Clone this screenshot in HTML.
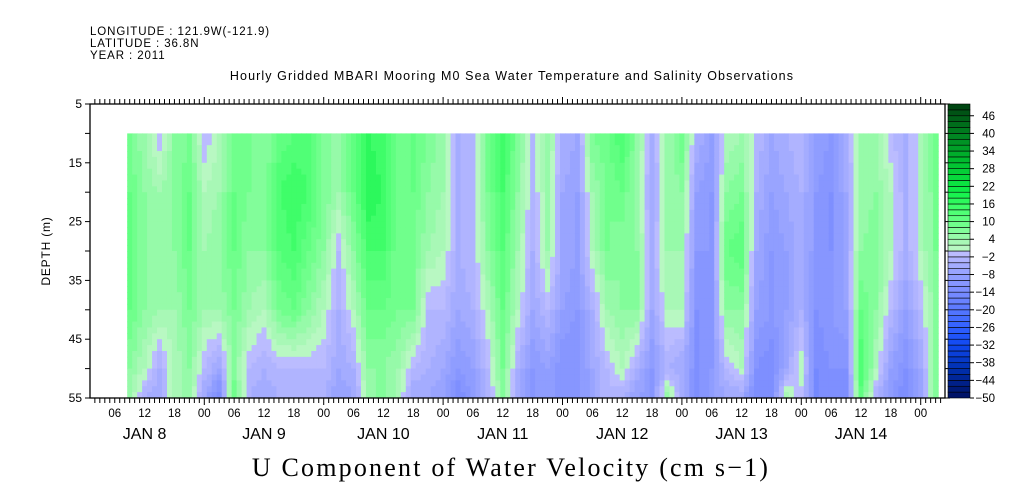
<!DOCTYPE html>
<html><head><meta charset="utf-8"><style>
body{margin:0;background:#fff;}
svg{display:block;font-family:"Liberation Sans",sans-serif;}
</style></head><body>
<svg id="chart" width="1009" height="504" viewBox="0 0 1009 504">
<text x="90" y="35" font-size="11.5" letter-spacing="0.9">LONGITUDE : 121.9W(-121.9)</text>
<text x="90" y="47" font-size="11.5" letter-spacing="0.9">LATITUDE : 36.8N</text>
<text x="90" y="59" font-size="11.5" letter-spacing="0.9">YEAR : 2011</text>
<text x="512" y="80" font-size="12.5" letter-spacing="1.1" text-anchor="middle">Hourly Gridded MBARI Mooring M0 Sea Water Temperature and Salinity Observations</text>
<g id="cells"></g>
<g id="axes"></g>
<g id="cbar"></g>
<text x="50" y="251" font-size="12" letter-spacing="0.8" text-anchor="middle" transform="rotate(-90 50 251)">DEPTH (m)</text>
<text x="511" y="476" font-size="26" letter-spacing="2.2" text-anchor="middle" font-family="Liberation Serif, serif">U Component of Water Velocity (cm s−1)</text>
</svg>
<script>
// data: 3-hourly columns starting Jan 8 09:00 (hours from Jan 8 00:00)
const startHour = 9;
const stepHours = 3;
const depthLevels = [10, 20, 30, 40, 50, 55];
const v10 = [8,4,-2,6,8,-2,2,8,8,6,10,12,12,6,6,10,16,14,8,10,8,4,-4,-2,8,16,8,-2,6,-4,-6,8,10,14,6,-4,4,10,-4,-8,2,4,-2,-6,-4,-2,-8,-10,-4,4,4,-2,-4,2,10];
const v20 = [10,6,4,6,10,2,4,10,8,6,14,16,14,8,4,10,18,16,8,10,6,4,-4,-2,8,14,6,-2,4,-6,-8,4,8,10,4,-6,4,6,-8,-10,6,8,-4,-8,-6,-4,-10,-12,-6,4,6,2,-4,2,8];
const v30 = [10,6,4,6,10,4,6,10,6,6,12,14,10,6,-2,6,14,14,8,8,4,2,-4,-2,6,12,4,-4,4,-6,-8,2,8,6,6,-4,4,4,-10,-10,10,12,-6,-10,-8,-4,-10,-12,-6,6,8,2,-4,2,8];
const v40 = [10,6,4,4,8,4,4,8,4,2,8,10,6,2,-4,2,10,10,8,8,-2,-2,-6,-4,2,10,2,-6,-2,-8,-10,-4,4,6,6,-6,2,2,-12,-10,6,6,-8,-10,-8,-4,-12,-10,-8,10,6,-2,-8,-2,6];
const v50 = [6,2,-4,2,6,-2,-6,6,-2,-4,-2,-2,-2,-2,-6,-4,6,6,4,-2,-4,-6,-10,-8,-2,8,-4,-10,-8,-12,-12,-6,-2,2,-4,-10,-4,-6,-12,-10,-2,2,-12,-14,-6,2,-14,-12,-12,14,2,-8,-12,-6,6];
const v55 = [4,-4,-6,4,4,-6,-14,10,-4,-6,-4,-4,-2,-4,-8,-6,4,8,2,-6,-6,-8,-14,-10,-4,6,-6,-10,-10,-10,-10,-8,-2,-4,-8,-10,6,-4,-14,-8,-6,-6,-14,-12,4,-2,-14,-14,-14,10,-4,-10,-14,-8,8];
const cbarLabels = [46,40,34,28,22,16,10,4,-2,-8,-14,-20,-26,-32,-38,-44,-50];
const yTickLabels = [5,15,25,35,45,55];
const dayLabels = ["JAN  8","JAN  9","JAN 10","JAN 11","JAN 12","JAN 13","JAN 14"];

const NS="http://www.w3.org/2000/svg";
const X0=90,X1=945,Y0=104,Y1=398;
const dayX0=204.3, pxH=4.975;
function xs(h){return dayX0+(h-24)*pxH;}
function ys(d){return Y0+(d-5)*(Y1-Y0)/50;}
function hex(c){return [parseInt(c.slice(1,3),16),parseInt(c.slice(3,5),16),parseInt(c.slice(5,7),16)];}
const gA=[[0,"#c0f8c8"],[4,"#a0f8b0"],[8,"#78ff92"],[14,"#48ff70"],[20,"#10f048"],[30,"#00c030"],[40,"#008020"],[50,"#004010"]];
const bA=[[0,"#c0c0ff"],[4,"#aab0ff"],[8,"#93a0ff"],[14,"#7a8cff"],[20,"#5878ff"],[26,"#3060ff"],[32,"#1048f0"],[40,"#0030b0"],[50,"#001060"]];
function color(v){
  v=Math.max(-50,Math.min(50,v));
  let q=v>=0?Math.floor(v/2)*2+1:Math.ceil(v/2)*2-1;
  const A=q>=0?gA:bA; const a=Math.abs(q);
  for(let i=0;i<A.length-1;i++){ if(a<=A[i+1][0]){const t=(a-A[i][0])/(A[i+1][0]-A[i][0]);const c1=hex(A[i][1]),c2=hex(A[i+1][1]);
    return "rgb("+c1.map((c,k)=>Math.round(c+(c2[k]-c)*t)).join(",")+")";}}
  return A[A.length-1][1];
}
const cols=[v10,v20,v30,v40,v50,v55];
function val(ci,d){
  let j=0; while(j<depthLevels.length-2&&d>depthLevels[j+1]) j++;
  const t=(d-depthLevels[j])/(depthLevels[j+1]-depthLevels[j]);
  return cols[j][ci]+(cols[j+1][ci]-cols[j][ci])*t;
}
const cells=document.getElementById('cells');
const n=v10.length;
for(let h=0;h<=(n-1)*stepHours;h++){
  const f=h/stepHours, i0=Math.min(Math.floor(f),n-2), t=f-i0;
  const hr=startHour+h;
  const x=xs(hr-0.5);
  for(let d=10;d<55;d+=1){
    const dm=d+0.5;
    const v=val(i0,dm)*(1-t)+val(i0+1,dm)*t;
    const r=document.createElementNS(NS,'rect');
    r.setAttribute('x',x.toFixed(2));r.setAttribute('y',ys(d).toFixed(2));
    r.setAttribute('width',(pxH+0.6).toFixed(2));r.setAttribute('height',((Y1-Y0)/50+0.6).toFixed(2));
    r.setAttribute('fill',color(v));
    
    
    cells.appendChild(r);
  }
}
const ax=document.getElementById('axes');
function line(x1,y1,x2,y2,w){const l=document.createElementNS(NS,'line');l.setAttribute('x1',x1);l.setAttribute('y1',y1);l.setAttribute('x2',x2);l.setAttribute('y2',y2);l.setAttribute('stroke','#000');l.setAttribute('stroke-width',w||1);ax.appendChild(l);return l;}
function txt(x,y,s,size,anchor,name){const t=document.createElementNS(NS,'text');t.setAttribute('x',x);t.setAttribute('y',y);t.setAttribute('font-size',size);t.setAttribute('text-anchor',anchor);t.textContent=s;
  
  
  ax.appendChild(t);}
const box=document.createElementNS(NS,'rect');
box.setAttribute('x',X0);box.setAttribute('y',Y0);box.setAttribute('width',X1-X0);box.setAttribute('height',Y1-Y0);box.setAttribute('fill','none');box.setAttribute('stroke','#000');box.setAttribute('stroke-width','1.3');


ax.appendChild(box);
for(let h=2;;h++){const x=xs(h);if(x>X1)break;if(x<X0)continue;
  const major=h%24===0;
  line(x,Y1,x,Y1+(major?7:5),1);line(x,Y0,x,Y0-(major?7:5),1);
  if(h%6===0){const hh=h%24;txt(x,Y1+19,(hh<10?"0":"")+hh,11.5,"middle","x-tick-label");}
}
dayLabels.forEach((s,i)=>{txt(xs(i*24+12),Y1+41,s,16,"middle","date-label");});
for(let d=5;d<=55;d+=5){const y=ys(d);line(X0-5,y,X0,y,1);line(X1,y,X1+5,y,1);}
yTickLabels.forEach(d=>txt(X0-8,ys(d)+4,String(d),12,"end","y-tick-label"));
const cb=document.getElementById('cbar');
const CX=948,CW=22;
for(let v=-50;v<50;v+=2){
  const y=Y1-(v+50)/100*(Y1-Y0), hgt=(Y1-Y0)/50;
  const r=document.createElementNS(NS,'rect');
  r.setAttribute('x',CX);r.setAttribute('y',(y-hgt).toFixed(2));r.setAttribute('width',CW);r.setAttribute('height',hgt.toFixed(2));
  r.setAttribute('fill',color(v+1));r.setAttribute('stroke','#000');r.setAttribute('stroke-width','0.6');
  
  
  cb.appendChild(r);
}
cbarLabels.forEach(v=>{const y=Y1-(v+50)/100*(Y1-Y0);
  const l=document.createElementNS(NS,'line');l.setAttribute('x1',CX+CW);l.setAttribute('x2',CX+CW+4);l.setAttribute('y1',y);l.setAttribute('y2',y);l.setAttribute('stroke','#000');cb.appendChild(l);
  const t=document.createElementNS(NS,'text');t.setAttribute('x',995);t.setAttribute('y',y+4);t.setAttribute('font-size',11.5);t.setAttribute('text-anchor','end');t.textContent=v<0?"−"+(-v):String(v);
  
  
  cb.appendChild(t);});
</script>
</body></html>
